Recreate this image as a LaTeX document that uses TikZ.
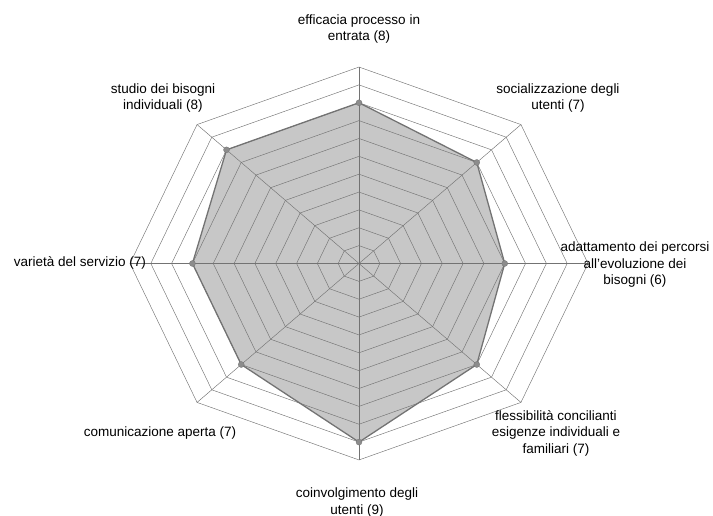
\documentclass[tikz,border=0pt]{standalone}
\usepackage{fontspec}
\setmainfont{Liberation Sans}
\usepackage{xcolor}
\newcommand{\ringmax}{11}

\begin{document}
\begin{tikzpicture}[x=1pt,y=1pt,
    gridline/.style={draw=black!55,line width=0.45pt},
    axisline/.style={draw=black!55,line width=0.45pt},
    areafill/.style={fill=black!22},
    areaborder/.style={draw=black!55,line width=1.3pt,line join=round},
    marker/.style={circle,fill=black!45,draw=black!55,line width=0.3pt,inner sep=0pt,minimum size=6pt},
    every node/.style={font=\fontsize{13.5}{16.5}\selectfont}]
    \useasboundingbox (0,0) rectangle (713,516);

    \begin{scope}[shift={(359,252.5)},x=20.82pt,y=17.86pt]
        \coordinate (o) at (0,0);
        \foreach \k in {0,...,7}
            \coordinate (e\k) at ({90-45*\k}:\ringmax);
        \foreach \v [count=\k from 0] in {8,7,6,7,9,7,7,8}
            \coordinate (p\k) at ({90-45*\k}:{\v+1});

        \fill[areafill] (p0) -- (p1) -- (p2) -- (p3) -- (p4) -- (p5) -- (p6) -- (p7) -- cycle;

        \foreach \r in {1,...,\ringmax}
            \draw[gridline] (90:\r) \foreach \k in {1,...,7}{ -- ({90-45*\k}:\r)} -- cycle;
        \foreach \k in {0,...,7}
            \draw[axisline] (o) -- (e\k);

        \draw[areaborder] (p0) -- (p1) -- (p2) -- (p3) -- (p4) -- (p5) -- (p6) -- (p7) -- cycle;
        \foreach \k in {0,...,7}
            \node[marker] (m\k) at (p\k) {};
    \end{scope}

    \begin{scope}[every node/.style={align=center,inner sep=0pt,font=\fontsize{13.5}{16.5}\selectfont}]
        \node (efficacia) at (359,487) {efficacia processo in\\entrata (8)};
        \node (socializzazione) at (558,418) {socializzazione degli\\utenti (7)};
        \node (adattamento) at (635,251) {adattamento dei percorsi\\all'evoluzione dei\\bisogni (6)};
        \node (flessibilita) at (556,83) {flessibilità concilianti\\esigenze individuali e\\familiari (7)};
        \node (coinvolgimento) at (357,13.5) {coinvolgimento degli\\utenti (9)};
        \node (comunicazione) at (160,83) {comunicazione aperta (7)};
        \node (varieta) at (80,253) {varietà del servizio (7)};
        \node (studio) at (163,418) {studio dei bisogni\\individuali (8)};
    \end{scope}
\end{tikzpicture}
\end{document}
